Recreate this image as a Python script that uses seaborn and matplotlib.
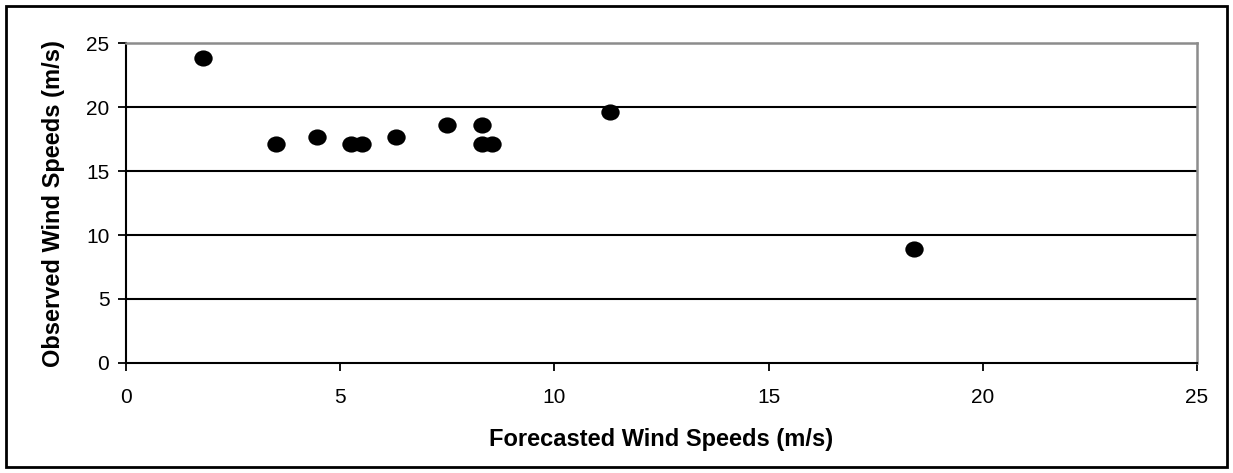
import matplotlib
matplotlib.use("Agg")
import matplotlib.pyplot as plt
import matplotlib.patches as mpatches
from matplotlib.path import Path
import numpy as np
import pandas as pd
import seaborn as sns

# Data
forecasted = [1.8, 3.5, 4.45, 5.25, 5.5, 6.3, 7.5, 8.3, 8.3, 8.55, 11.3, 18.4]
observed = [23.9, 17.1, 17.7, 17.1, 17.1, 17.7, 18.6, 18.6, 17.1, 17.1, 19.6, 8.9]
x_ticks = [0, 5, 10, 15, 20, 25]
y_ticks = [0, 5, 10, 15, 20, 25]

df = pd.DataFrame({"Forecasted": forecasted, "Observed": observed})

sns.set_style("white")
plt.rcParams["font.family"] = ["Liberation Sans", "DejaVu Sans"]
plt.rcParams["text.color"] = "black"
plt.rcParams["axes.labelcolor"] = "black"
plt.rcParams["xtick.color"] = "black"
plt.rcParams["ytick.color"] = "black"

fig = plt.figure(figsize=(12.33, 4.73), dpi=100)
ax = fig.add_axes([126 / 1233, 1 - 362.7 / 473, (1197 - 126) / 1233, (362.7 - 43.5) / 473])

# slightly wide elliptical marker
uc = Path.unit_circle()
ell = Path(uc.vertices * np.array([1.0, 0.88]), uc.codes)

sns.scatterplot(data=df, x="Forecasted", y="Observed", ax=ax, marker=ell,
                s=175, color="black", edgecolor="black", linewidth=0, zorder=3)

ax.set_xlim(0, 25)
ax.set_ylim(0, 25)
ax.set_xticks(x_ticks)
ax.set_yticks(y_ticks)
ax.set_xticklabels([str(t) for t in x_ticks], fontsize=15, color="black")
ax.set_yticklabels([str(t) for t in y_ticks], fontsize=15, color="black")

for yv in y_ticks[1:-1]:
    ax.axhline(yv, color="black", lw=1.5, zorder=1)

ax.spines["left"].set_color("black")
ax.spines["bottom"].set_color("black")
ax.spines["left"].set_linewidth(1.5)
ax.spines["bottom"].set_linewidth(1.5)
ax.spines["top"].set_color("#8c8c8c")
ax.spines["right"].set_color("#8c8c8c")
ax.spines["top"].set_linewidth(1.8)
ax.spines["right"].set_linewidth(1.8)
for s in ax.spines.values():
    s.set_visible(True)

ax.tick_params(axis="both", which="major", bottom=True, left=True, direction="out",
               length=6, width=1.3, color="black", labelcolor="black")
ax.tick_params(axis="y", pad=6)
ax.tick_params(axis="x", pad=12)

ax.set_xlabel("Forecasted Wind Speeds (m/s)", fontsize=17, fontweight="bold",
              labelpad=15, color="black")
ax.set_ylabel("Observed Wind Speeds (m/s)", fontsize=17, fontweight="bold",
              labelpad=15, color="black")

fig.patches.append(mpatches.Rectangle((6 / 1233, 6 / 473), 1 - 12 / 1233, 1 - 12 / 473,
                                      transform=fig.transFigure, fill=False,
                                      edgecolor="black", linewidth=2))

fig.savefig("out.png", dpi=100)
